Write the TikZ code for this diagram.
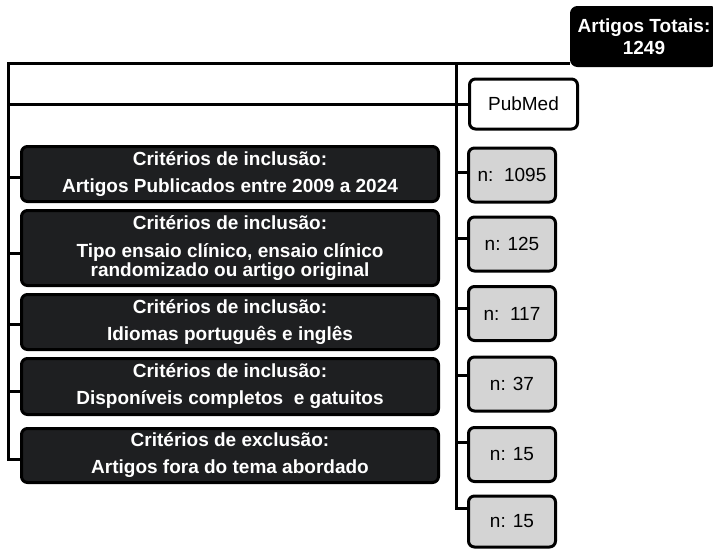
\documentclass[tikz,border=0pt]{standalone}
\usepackage{fontspec}
\setmainfont{Liberation Sans}
\definecolor{darkfill}{RGB}{30,31,33}
\definecolor{grayfill}{RGB}{212,212,212}
\begin{document}
\begin{tikzpicture}[x=1pt,y=-1pt,
  conn/.style={draw=black, line width=3pt, line join=miter},
  darkbox/.style={draw=black, line width=3pt, fill=darkfill, rounded corners=6pt,
    text=white, font=\fontsize{19}{18.5}\selectfont\bfseries, align=center,
    minimum width=417pt, inner sep=0pt},
  graybox/.style={draw=black, line width=3pt, fill=grayfill, rounded corners=6pt,
    font=\fontsize{19}{19}\selectfont, minimum width=87pt, minimum height=54pt, inner sep=0pt},
  whitebox/.style={draw=black, line width=3pt, fill=white, rounded corners=6pt,
    font=\fontsize{19}{19}\selectfont, minimum width=108pt, minimum height=50pt, inner sep=0pt},
  topbox/.style={draw=black, line width=3pt, fill=black, rounded corners=6pt,
    text=white, font=\fontsize{19}{22}\selectfont\bfseries, align=center,
    minimum width=145pt, minimum height=58pt, inner sep=0pt}
]
\useasboundingbox (0,0) rectangle (713,549);
\fill[white] (0,0) rectangle (713,549);

% nodes
\node[topbox] (tot) at (644,36.5) {Artigos Totais:\\1249};
\node[whitebox] (pub) at (523.5,104) {PubMed};

\node[darkbox, minimum height=55pt] (b1) at (230,174) {Critérios de inclusão:\\[8.5pt]Artigos Publicados entre 2009 a 2024};
\node[darkbox, minimum height=75pt] (b2) at (230,248) {Critérios de inclusão:\\[9.5pt]Tipo ensaio clínico, ensaio clínico\\randomizado ou artigo original};
\node[darkbox, minimum height=55pt] (b3) at (230,322) {Critérios de inclusão:\\[8.5pt]Idiomas português e inglês};
\node[darkbox, minimum height=56pt] (b4) at (230,386.5) {Critérios de inclusão:\\[8.5pt]Disponíveis completos\ \ e gatuitos};
\node[darkbox, minimum height=54pt] (b5) at (230,455.5) {Critérios de exclusão:\\[8.5pt]Artigos fora do tema abordado};

\node[graybox] (g1) at (512,175) {n:\ \ 1095};
\node[graybox] (g2) at (512,244) {n: 125};
\node[graybox] (g3) at (512,313.5) {n:\ \ 117};
\node[graybox] (g4) at (512,384) {n: 37};
\node[graybox] (g5) at (512,454.5) {n: 15};
\node[graybox, minimum height=51pt] (g6) at (512,521.5) {n: 15};

% connector coordinates
\coordinate (L) at (8,63);
\coordinate (M) at (456,63);
\coordinate (lt1) at (8,177);
\coordinate (lt2) at (8,253);
\coordinate (lt3) at (8,324);
\coordinate (lt4) at (8,391);
\coordinate (lt5) at (8,459);
\coordinate (mt1) at (456,172);
\coordinate (mt2) at (456,238);
\coordinate (mt3) at (456,308);
\coordinate (mt4) at (456,375);
\coordinate (mt5) at (456,442);
\coordinate (mt6) at (456,508);

% connectors
\draw[conn] (tot.west |- L) -- (L) -- (lt5) -- (lt5 -| b5.west);
\draw[conn] (L |- pub.west) -- (pub.west);
\draw[conn] (M) -- (mt6) -- (mt6 -| g6.west);
\foreach \i in {1,2,3,4} {
  \draw[conn] (lt\i) -- (lt\i -| b\i.west);
}
\foreach \i in {1,2,3,4,5} {
  \draw[conn] (mt\i) -- (mt\i -| g\i.west);
}
\end{tikzpicture}
\end{document}
